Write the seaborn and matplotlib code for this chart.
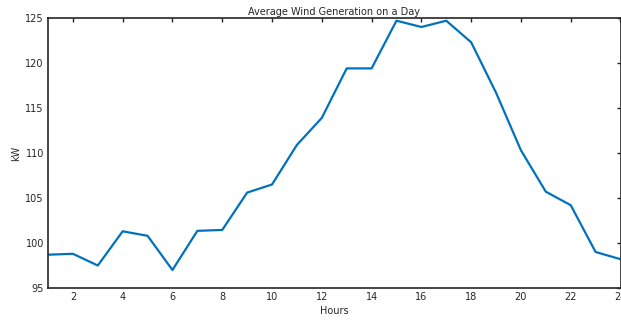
import matplotlib
matplotlib.use("Agg")
import matplotlib.pyplot as plt
import seaborn as sns
import pandas as pd

hours = list(range(1, 25))
power_kw = [98.7, 98.8, 97.5, 101.3, 100.8, 97.0, 101.35, 101.45, 105.6, 106.5,
            110.9, 113.9, 119.4, 119.4, 124.7, 124.0, 124.7, 122.3, 116.7, 110.3,
            105.7, 104.2, 99.0, 98.2]
x_ticks = list(range(2, 25, 2))
y_ticks = [95, 100, 105, 110, 115, 120, 125]

sns.set_theme(style="white")
plt.rcParams['font.family'] = ['DejaVu Sans']

df = pd.DataFrame({"Hours": hours, "kW": power_kw})

fig = plt.figure(figsize=(6.21, 3.2), dpi=100)
ax = fig.add_axes([48 / 621, 1 - 288 / 320, (620.5 - 48) / 621, (288 - 18) / 320])
sns.lineplot(data=df, x="Hours", y="kW", ax=ax, color="#0072BD", linewidth=1.6)

ax.set_xlim(1, 24)
ax.set_ylim(95, 125)
ax.set_xticks(x_ticks)
ax.set_yticks(y_ticks)
ax.tick_params(direction="in", length=3, width=1, colors="#262626", labelsize=7,
               top=True, right=True, labeltop=False, labelright=False, pad=3)
for s in ax.spines.values():
    s.set_visible(True)
    s.set_color("#262626")
    s.set_linewidth(1.2)
ax.set_xlabel("Hours", fontsize=7, color="#262626", labelpad=3)
ax.set_ylabel("kW", fontsize=7, color="#262626", labelpad=3)
ax.set_title("Average Wind Generation on a Day", fontsize=7, color="#262626", pad=2)

fig.savefig("out.png", dpi=100)
